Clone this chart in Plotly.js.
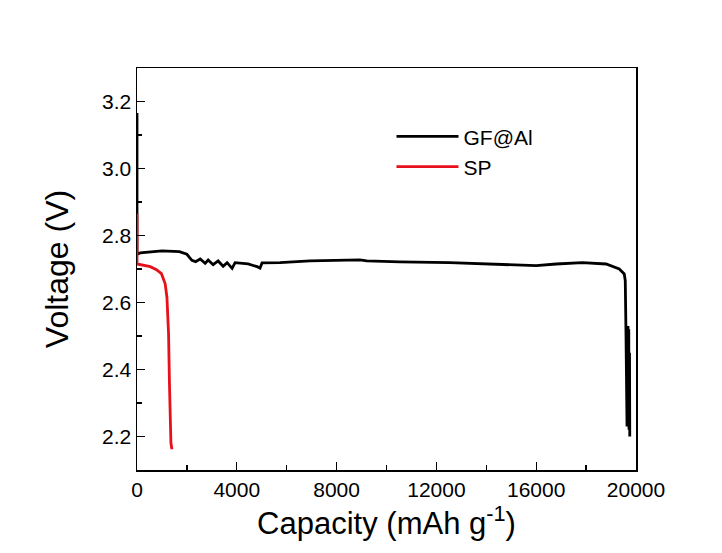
<!DOCTYPE html>
<html>
<head>
<meta charset="utf-8">
<script src="https://cdn.plot.ly/plotly-3.0.1.min.js"></script>
<style>html,body{margin:0;padding:0;background:#fff;}#chart{width:722px;height:553px;}</style>
</head>
<body>
<div id="chart"></div>
<script>
const gfCapacity = [0, 0, 130, 1000, 1700, 2000, 2200, 2350, 2532, 2732, 2852, 3052, 3252, 3452, 3612, 3812, 3932, 4212, 4452, 4812, 4932, 5012, 5732, 6932, 8132, 8932, 9212, 10532, 12532, 14000, 16000, 16800, 17850, 18800, 19330, 19530, 19570, 19600, 19620, 19640, 19660, 19680, 19690, 19710, 19720, 19740, 19750];
const gfVoltage  = [3.166, 2.744, 2.748, 2.754, 2.752, 2.744, 2.726, 2.722, 2.730, 2.717, 2.727, 2.713, 2.724, 2.708, 2.719, 2.702, 2.719, 2.718, 2.715, 2.707, 2.703, 2.718, 2.719, 2.724, 2.727, 2.727, 2.724, 2.721, 2.719, 2.715, 2.710, 2.715, 2.719, 2.715, 2.700, 2.685, 2.665, 2.50, 2.30, 2.23, 2.50, 2.53, 2.25, 2.52, 2.22, 2.45, 2.20];
const spCapacity = [0, 0, 530, 780, 980, 1130, 1200, 1240, 1265, 1300, 1330, 1360, 1400];
const spVoltage  = [2.865, 2.715, 2.707, 2.698, 2.686, 2.656, 2.615, 2.56, 2.507, 2.36, 2.20, 2.18, 2.162];
const seriesNames = ["GF@Al", "SP"];
const xTickVals = [0, 4000, 8000, 12000, 16000, 20000];
const yTickVals = [2.2, 2.4, 2.6, 2.8, 3.0, 3.2];

const font = "Arial, 'Liberation Sans', sans-serif";
const traces = [
  {x: gfCapacity, y: gfVoltage, name: seriesNames[0], mode: "lines", line: {color: "#000000", width: 2.8}},
  {x: spCapacity, y: spVoltage, name: seriesNames[1], mode: "lines", line: {color: "#e8101a", width: 2.8}}
];
const axisCommon = {
  showgrid: false, zeroline: false, showline: true, linecolor: "#000", linewidth: 1.5, mirror: true,
  ticks: "inside", ticklen: 8, tickwidth: 1.2, tickcolor: "#000",
  tickfont: {family: font, size: 21, color: "#000"}
};
const layout = {
  width: 722, height: 553,
  margin: {l: 137, r: 86, t: 68, b: 83},
  paper_bgcolor: "#fff", plot_bgcolor: "#fff",
  showlegend: true,
  legend: {x: 0.51, y: 0.88, xanchor: "left", yanchor: "top", bgcolor: "rgba(0,0,0,0)",
           font: {family: font, size: 21, color: "#000"}, itemwidth: 62, tracegroupgap: 0},
  xaxis: Object.assign({}, axisCommon, {
    range: [0, 20000], tickvals: xTickVals, ticktext: xTickVals.map(v => String(v)),
    minor: {ticks: "inside", ticklen: 5, tickwidth: 1.2, tickcolor: "#000", dtick: 2000, tick0: 0},
    title: {text: "Capacity (mAh g<sup>-1</sup>)", font: {family: font, size: 31, color: "#000"}, standoff: 6}
  }),
  yaxis: Object.assign({}, axisCommon, {
    range: [2.1, 3.3], tickvals: yTickVals, ticktext: yTickVals.map(v => v.toFixed(1)),
    minor: {ticks: "inside", ticklen: 5, tickwidth: 1.2, tickcolor: "#000", dtick: 0.1, tick0: 2.1},
    title: {text: "Voltage (V)", font: {family: font, size: 32, color: "#000"}, standoff: 24}
  })
};
Plotly.newPlot("chart", traces, layout, {displayModeBar: false, staticPlot: true});
</script>
</body>
</html>
